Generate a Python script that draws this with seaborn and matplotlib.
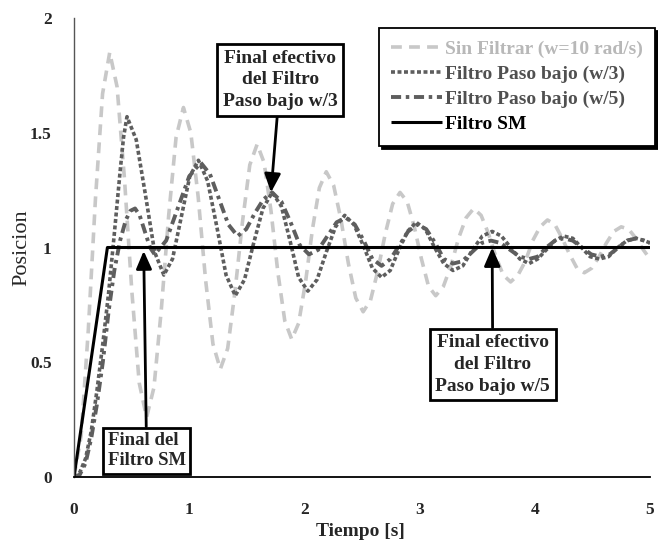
import matplotlib
matplotlib.use("Agg")
import matplotlib.pyplot as plt
import seaborn as sns
import pandas as pd

# ---------------- data ----------------
t_raw = [0, 0.062, 0.124, 0.186, 0.248, 0.31,
         0.374, 0.438, 0.502, 0.566, 0.63,
         0.694, 0.758, 0.822, 0.886, 0.95,
         1.014, 1.078, 1.142, 1.206, 1.27,
         1.334, 1.398, 1.462, 1.526, 1.59,
         1.65, 1.71, 1.77, 1.83, 1.89,
         1.95, 2.01, 2.07, 2.13, 2.19,
         2.254, 2.318, 2.382, 2.446, 2.51,
         2.574, 2.638, 2.702, 2.766, 2.83,
         2.892, 2.954, 3.016, 3.078, 3.14,
         3.206, 3.272, 3.338, 3.404, 3.47,
         3.534, 3.598, 3.662, 3.726, 3.79,
         3.854, 3.918, 3.982, 4.046, 4.11,
         4.174, 4.238, 4.302, 4.366, 4.43,
         4.494, 4.558, 4.622, 4.686, 4.75,
         4.814, 4.878, 4.942, 5.0]
y_raw = [0, 0.18, 0.64, 1.21, 1.67, 1.85,
         1.70, 1.30, 0.81, 0.41, 0.26,
         0.39, 0.73, 1.14, 1.48, 1.61,
         1.50, 1.22, 0.86, 0.58, 0.47,
         0.56, 0.81, 1.11, 1.36, 1.45,
         1.37, 1.16, 0.89, 0.68, 0.60,
         0.67, 0.85, 1.08, 1.26, 1.33,
         1.27, 1.12, 0.93, 0.78, 0.72,
         0.77, 0.90, 1.06, 1.19, 1.24,
         1.20, 1.09, 0.95, 0.83, 0.79,
         0.83, 0.92, 1.04, 1.13, 1.17,
         1.14, 1.06, 0.96, 0.88, 0.85,
         0.88, 0.94, 1.03, 1.09, 1.12,
         1.10, 1.04, 0.97, 0.91, 0.89,
         0.91, 0.96, 1.02, 1.07, 1.09,
         1.08, 1.04, 0.99, 0.95]

t_w3 = [0, 0.05, 0.10, 0.15, 0.20, 0.25, 0.30, 0.35, 0.40, 0.43, 0.46,
        0.54, 0.62, 0.70, 0.78,
        0.855, 0.93, 1.005, 1.08,
        1.16, 1.24, 1.32, 1.40,
        1.48, 1.56, 1.64, 1.72,
        1.80, 1.875, 1.95, 2.03,
        2.11, 2.19, 2.27, 2.35,
        2.43, 2.51, 2.59, 2.67,
        2.745, 2.82, 2.895, 2.97,
        3.05, 3.13, 3.21, 3.29,
        3.375, 3.46, 3.545, 3.63,
        3.71, 3.79, 3.87, 3.95,
        4.025, 4.10, 4.175, 4.25,
        4.33, 4.405, 4.48, 4.56,
        4.64, 4.72, 4.80, 4.88,
        4.95, 5.0]
y_w3 = [0, 0.02, 0.08, 0.20, 0.38, 0.58, 0.80, 1.06, 1.33, 1.48, 1.57,
        1.47, 1.23, 0.98, 0.88,
        0.95, 1.13, 1.31, 1.38,
        1.29, 1.09, 0.88, 0.79,
        0.86, 1.02, 1.17, 1.24,
        1.18, 1.03, 0.87, 0.81,
        0.86, 0.98, 1.09, 1.14,
        1.10, 1.01, 0.91, 0.87,
        0.90, 0.99, 1.07, 1.11,
        1.08, 1.00, 0.93, 0.90,
        0.92, 0.99, 1.05, 1.07,
        1.05, 1.00, 0.95, 0.93,
        0.95, 0.99, 1.03, 1.05,
        1.04, 1.00, 0.96, 0.95,
        0.96, 1.00, 1.03, 1.04,
        1.03, 1.02]

t_w5 = [0, 0.05, 0.10, 0.15, 0.20, 0.25, 0.30, 0.35, 0.40, 0.45, 0.49, 0.53,
        0.57, 0.615, 0.66, 0.70,
        0.80, 0.90, 1.00, 1.10,
        1.18, 1.26, 1.34, 1.42,
        1.495, 1.57, 1.645, 1.72,
        1.80, 1.88, 1.96, 2.04,
        2.12, 2.20, 2.28, 2.36,
        2.4375, 2.515, 2.59, 2.67,
        2.7475, 2.825, 2.90, 2.98,
        3.0575, 3.135, 3.21, 3.29,
        3.37, 3.455, 3.54, 3.62,
        3.70, 3.785, 3.87, 3.95,
        4.025, 4.10, 4.175, 4.25,
        4.33, 4.41, 4.49, 4.57,
        4.65, 4.725, 4.80, 4.88,
        4.95, 5.0]
y_w5 = [0, 0.01, 0.06, 0.17, 0.32, 0.50, 0.72, 0.90, 1.03, 1.12, 1.16, 1.17,
        1.14, 1.07, 1.00, 0.97,
        1.03, 1.17, 1.31, 1.37,
        1.32, 1.21, 1.10, 1.05,
        1.08, 1.15, 1.21, 1.24,
        1.20, 1.11, 1.01, 0.97,
        0.99, 1.05, 1.11, 1.13,
        1.10, 1.03, 0.95, 0.92,
        0.95, 1.01, 1.07, 1.10,
        1.08, 1.02, 0.95, 0.93,
        0.94, 0.98, 1.02, 1.03,
        1.02, 0.99, 0.96, 0.95,
        0.96, 1.00, 1.03, 1.04,
        1.03, 1.00, 0.97, 0.96,
        0.97, 1.00, 1.03, 1.04,
        1.03, 1.02]

t_sm = [0, 0.29, 5.0]
y_sm = [0, 1.0, 1.0]

labels = ["Sin Filtrar (w=10 rad/s)", "Filtro Paso bajo (w/3)",
          "Filtro Paso bajo (w/5)", "Filtro SM"]
x_ticks = [0, 1, 2, 3, 4, 5]
y_ticks = [0, 0.5, 1, 1.5, 2]
y_tick_labels = ["0", "0.5", "1", "1.5", "2"]

# ---------------- figure ----------------
sns.set_theme(style="white")
plt.rcParams["font.family"] = ["Liberation Serif", "DejaVu Serif"]

fig = plt.figure(figsize=(6.58, 5.46), dpi=100)
ax = fig.add_axes([74/658, 1-477/546, (650-74)/658, (477-18)/546])

styles = [
    dict(color="#c8c8c8", lw=2.6, dashes=(3.0, 2.0)),
    dict(color="#5e5e5e", lw=2.6, dashes=(1.1, 0.7)),
    dict(color="#5e5e5e", lw=2.8, dashes=(2.6, 1.2, 0.9, 1.2)),
    dict(color="black", lw=2.2, dashes=None),
]
series = [(t_raw, y_raw), (t_w3, y_w3), (t_w5, y_w5), (t_sm, y_sm)]
for (tt, yy), lab, st in zip(series, labels, styles):
    df = pd.DataFrame({"t": tt, "y": yy})
    line_ax = sns.lineplot(data=df, x="t", y="y", ax=ax, color=st["color"],
                           linewidth=st["lw"], label=lab, sort=False,
                           errorbar=None)
    ln = line_ax.lines[-1]
    if st["dashes"] is not None:
        ln.set_dashes(st["dashes"])
    ln.set_solid_capstyle("butt")

ax.set_xlim(0, 5)
ax.set_ylim(0, 2)
ax.set_xticks(x_ticks)
ax.set_xticklabels([str(v) for v in x_ticks])
ax.set_yticks(y_ticks)
ax.set_yticklabels(y_tick_labels)
ax.tick_params(axis="both", length=0, labelsize=12.5)
ax.tick_params(axis="x", pad=18)
ax.tick_params(axis="y", pad=16)
for lab in ax.get_xticklabels() + ax.get_yticklabels():
    lab.set_fontweight("bold")

for s in ["top", "right"]:
    ax.spines[s].set_visible(False)
ax.spines["left"].set_color("#555555")
ax.spines["left"].set_linewidth(1.0)
ax.spines["bottom"].set_color("black")
ax.spines["bottom"].set_linewidth(1.3)

ax.set_xlabel("Tiempo [s]", fontsize=14, fontweight="bold")
ax.xaxis.set_label_coords(0.497, -0.10)
ax.set_ylabel("Posicion", fontsize=16)
ax.yaxis.set_label_coords(-0.074, 0.5)

# legend
leg = ax.legend(loc="upper right", bbox_to_anchor=(0.996, 0.949),
                bbox_transform=fig.transFigure, borderaxespad=0,
                frameon=True, fancybox=False, shadow={"color": "black", "alpha": 1},
                handlelength=2.6, handletextpad=0.15,
                labelspacing=0.38, borderpad=0.65,
                prop={"weight": "bold", "size": 14})
leg.get_frame().set_edgecolor("black")
leg.get_frame().set_linewidth(1.3)
text_colors = ["#b8b8b8", "#505050", "#505050", "black"]
for txt, c in zip(leg.get_texts(), text_colors):
    txt.set_color(c)

# annotations
box = dict(boxstyle="square,pad=0.3", fc="white", ec="black", lw=2)
arrow = dict(arrowstyle="-|>,head_length=0.8,head_width=0.35", color="black",
             lw=2, shrinkA=0, shrinkB=0)

ax.annotate("Final efectivo\ndel Filtro\nPaso bajo w/3", xy=(1.71, 1.24),
            xytext=(1.79, 1.73), textcoords="data", ha="center", va="center",
            fontsize=14, fontweight="bold", bbox=box, arrowprops=arrow,
            linespacing=1.35)
ax.annotate("Final del\nFiltro SM", xy=(0.605, 0.985), xytext=(0.63, 0.115),
            textcoords="data", ha="center", va="center", fontsize=13.5,
            fontweight="bold", bbox=dict(boxstyle="square,pad=0.25", fc="white",
                                         ec="black", lw=2),
            arrowprops=arrow, multialignment="left", linespacing=1.2)
ax.annotate("Final efectivo\ndel Filtro\nPaso bajo w/5", xy=(3.63, 1.0),
            xytext=(3.635, 0.49), textcoords="data", ha="center", va="center",
            fontsize=14, fontweight="bold", bbox=box, arrowprops=arrow,
            linespacing=1.35)

fig.savefig("out.png", dpi=100)
